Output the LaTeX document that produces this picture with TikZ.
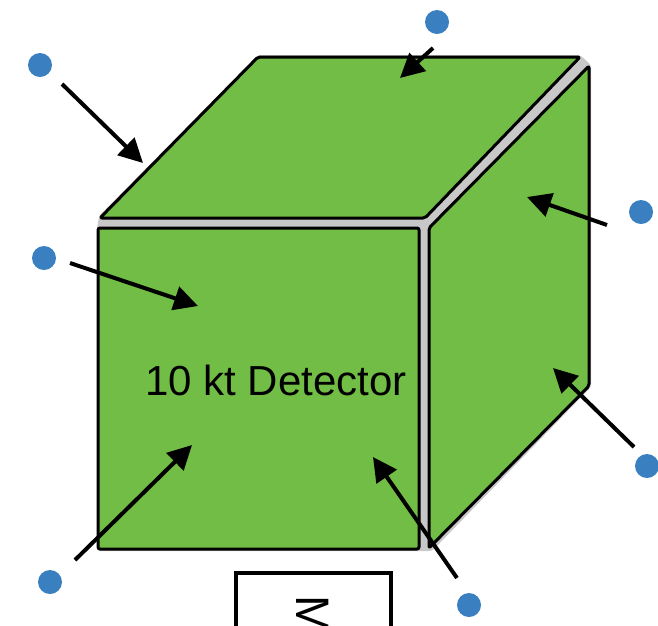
\documentclass[tikz,border=0pt]{standalone}
\usepackage{fontspec}
\setmainfont{Liberation Sans}
\usetikzlibrary{arrows.meta}
\definecolor{facegreen}{HTML}{71BD45}
\definecolor{dotblue}{HTML}{3A7FC0}
\definecolor{gapgray}{HTML}{C8C8C8}

\begin{document}
\begin{tikzpicture}[x=1pt, y=-1pt,
  face/.style={draw=black, line width=3pt, fill=facegreen, rounded corners=2pt, line join=round},
  dot/.style={circle, fill=dotblue, inner sep=0pt, minimum size=24pt},
  hit/.style={line width=4pt, -{Triangle[length=24pt,width=24pt]}}]
  \useasboundingbox (0,0) rectangle (658,625);
  \fill[gapgray, rounded corners=3pt] (97,229) -- (99,216) -- (258,55) -- (580,55) -- (591,65)
    -- (591,387) -- (432,551) -- (97,551) -- cycle;
  \draw[face] (100,218) -- (258,57) -- (580,57) -- (425,218) -- cycle;
  \draw[face] (98,228) rectangle (419,549);
  \draw[face] (429,228) -- (589,66) -- (589,386) -- (429,548) -- cycle;
  \node[font=\fontsize{42}{42}\selectfont] (label) at (276,380) {10 kt Detector};
  \draw[line width=4pt, fill=white] (236,573) rectangle (391,650);
  \node[rotate=-90, anchor=base west, inner sep=0pt, font=\fontsize{47}{47}\selectfont] (mon) at (296,595) {M};
  \foreach \n/\x/\y in {1/40/65, 2/437/22, 3/641/212, 4/44/258, 5/647/466, 6/50/582, 7/469/605}
    \node[dot] (d\n) at (\x,\y) {};
  \foreach \n/\a/\b/\c/\d in {1/62/84/143/163, 2/433/48/400/78, 3/607/225/527/197, 4/70/263/198/306,
      5/634/447/553/368, 6/75/560/192/445, 7/457/578/373/457} {
    \coordinate (s\n) at (\a,\b);
    \coordinate (e\n) at (\c,\d);
    \draw[hit] (s\n) -- (e\n);
  }
\end{tikzpicture}
\end{document}
